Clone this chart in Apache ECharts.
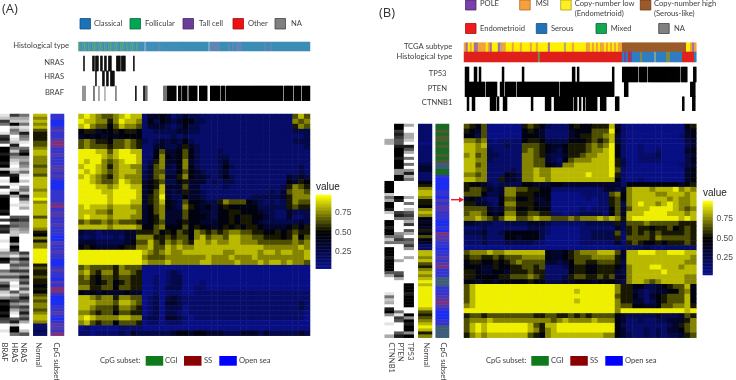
<!DOCTYPE html>
<html><head><meta charset="utf-8">
<style>html,body{margin:0;padding:0;background:#fff}#c{width:736px;height:380px}</style>
<script src="https://cdn.jsdelivr.net/npm/echarts@6/dist/echarts.min.js"></script>
</head><body><div id="c"></div>
<script>
// ---- Panel A heatmap (digit d = methylation beta about 0.05 + d*0.1), read block by block
const heatA = [
"8987667898 8133431232 2111111111 1111111686","9887757988 7142432344 2211111111 1111111767",
"8976646877 6133321242 2111111111 1111111576","4553445455 4112222332 2111111111 1111111222",
"3434343444 4111112121 1111111111 1111111112","6765546676 5212323242 1111111111 1111111222",
"6766656676 5113322353 2111111111 1111111112","9998868998 8114633464 2111211111 1111111111",
"9999878999 8114743464 2111221111 1111111111","9899767899 8125733473 2111231111 1111111111",
"8998757887 7136732474 2111242111 1111111121","9898767888 7236622464 3211231111 1111111121",
"8987657877 7236733574 3321242111 1111113232","9987667987 7345622453 3312122111 1111114354",
"9998878998 8345833363 3111121111 1111125765","9999889999 8346832353 3211111111 1112136776",
"9999989999 8356932243 3211111111 2222235777","9999989998 8356843264 4322576664 3212125766",
"8988878887 7346743275 4342454444 4222225655","8887768888 7346733364 4332445544 4322113222",
"8988878887 7345733364 4432445455 4432113112","6766767666 5345633454 4333445455 4322222232",
"8888878888 7446744464 5443454545 5433334545","3221222233 5556454654 7656567766 5544545655",
"2121112133 7775565664 7867768877 6655545746","3332222234 6686576765 8878778877 7666666767",
"4543333455 7786687877 8888888888 8877777787","9999999999 9876787788 8888877888 8788788778",
"9999999999 9766677777 7787778777 8777777778","9999999999 9877787777 7887777877 7878878776",
"6766665766 6000000000 0000000000 0000000000","7865775776 5000012100 0000000000 0000000000",
"6754665665 5001012200 0000000000 0000000000","6654564565 5001012200 0100000000 0000000000",
"7755664665 5001022200 1100000000 0000000000","4343433343 3001011100 1111111111 1111111111",
"8876775776 6012023211 1111111111 1111111111","8887776887 6012033211 1111111111 1111111121",
"8876665776 5012022201 1111111111 1111111121","7765664665 5012022101 1111111111 1111111110",
"8987777887 7122033210 1111111111 1111111110","7865664666 5011011100 0000000000 0000000000",
"0100000111 1000000000 0000000000 0000000000","1101111213 2222223443 4433322233 3232222232"];
// ---- Panel B heatmap
const heatB = [
"6546000000 5654211145 4455583100 0000000045","5436000000 4543111134 4466694100 0000000034",
"4426000000 4443111134 5566783100 0000000134","7767101111 4554222244 4565683100 0000000023",
"8878111211 6665433455 5676794100 1000000023","8877211111 6765432455 5677894100 1001000034",
"7867221111 7765322355 6778894100 1112000023","8877211111 7766321467 7788895200 1111000024",
"8867111111 7766432778 8888895200 0000000123","8877111121 7787788888 8888896100 0000000034",
"7767111432 7787788888 8988895100 0000000034","8877115332 7788788888 8888884100 1000000034",
"5443212222 4433344333 3333333144 4444444345","5665323776 6554411111 1111332378 8878889787",
"6664223775 5544400000 1111167478 8887788878","3432114664 4533400000 0101156478 8888878778",
"5533214775 5543300000 0001156278 9887898778","6666323664 4544400000 1011146368 8899998767",
"6776434775 5665511011 2222146388 8999988878","7787656886 6787766676 7778787589 9999999898",
"3322211222 2333211111 1222225266 6766666555","1112111111 1222100000 1111113256 5545564565",
"2223112444 4442100000 1122226156 5656555565","1112111443 4442000000 1122225166 6657666665",
"1112111222 2211000000 1111113156 5445455565","0000000000 0000000000 0000000111 1211111111",
"6777877888 8888433456 7778886388 9998899988","5665565666 7777433456 6677775388 8888888887",
"4554454567 6666332346 6556665288 8888888877","4443354455 6656111245 5445554378 8899888788",
"5543344355 5655111145 5445553278 8888988888","5544445566 6765111256 6556563378 8888888877",
"4434434444 4544222334 4434443278 8767888877","6899999999 9999999999 9999997554 4223456684",
"6899999999 9999999998 9999997553 2123344674","6899999999 9999999999 9999996554 2134566684",
"6899999999 9999999998 9999997553 3124566684","7899999999 9999999999 9999997664 4334667785",
"9999999999 9999999999 9999997999 9999999989","5665666666 6655665565 6566664322 2223222365",
"6777877777 7777767877 7787774311 2112233357","6898999999 9865889999 9999994211 1111123567",
"6898999999 9875789999 9999994311 1212133467","5787888888 8654788888 8888774321 1212122356"];

// ---- Row annotation strips (grey level: 0 white .. 9 black)
const rowBRAF_A = "1275001786 0998998929 8010701899 9989070 878001001 4398 0053625 86214 989989 760010";
const rowHRAS_A = "7329254012 8526421013 8991029300 1000685 6322994984 1636473620 1062574631 0682995";
const rowNRAS_A = "5325128541 0579435425 1020452862 1300675 543000000 7485637485 7362586375 85730026";
const rowNormalA = "8787865556 6788777677 6888878897 8888688 8754757799 9995655655 4546767767 88711 21";
const rowCpGA = "MMBBMPMMPR RMMPMMMPPM PMBBBMMMMP RMPPMMP MMMBBPMMPM MBBMPMMBPM RRMBBBMMPMB MPPMR";
const rowCTNNB1_B = "0000033000 0000000009 9992539982 0099899525 0999899996 3000001523 08940010003";
const rowPTEN_B = "9978766899 9899944990 0000980007 8500004575 0000030006 7300000000 00517600068";
const rowTP53_B = "3003320863 0505048350 0000305026 7537063065 7400300000 0009998999 90094989949";
const rowNormalB = "1111110111 1112331114 5788755478 7434354643 1188786578 7898999999 98656789857";
const rowCpGB = "GGTGTTGTGGTGTUUGGM BBBBMMBPMPPMMMBBMB RPPMMBMMPMPRMMMUUUMMMPPRPMBBBMMUUUU";

// ---- Column mutation tracks: [first column, last column, grey level]
const colNRAS_A = [[5,5,9],[14,15,9],[17,19,9],[22,23,9],[26,27,9],[30,32,9],[38,41,9],[43,46,9],[55,55,9]];
const colHRAS_A = [[17,17,9],[24,25,9],[28,29,9],[32,35,9]];
const colBRAF_A = [[4,4,5],[6,6,5],[15,15,6],[20,20,4],[26,26,3],[37,37,5],[57,57,9],[65,66,8],[67,68,5],[85,88,5],[89,97,9],[100,102,9],[104,108,9],[110,110,5],[111,118,9],[121,128,9],[132,141,9],[143,146,9],[148,204,9],[206,214,9],[216,222,9],[224,231,9]];
const colTP53_B = [[1,4,9],[10,12,9],[15,16,9],[38,39,9],[58,59,9],[108,110,9],[113,114,9],[148,149,9],[158,173,9],[175,182,9],[184,215,9],[217,222,9],[229,231,9]];
const colPTEN_B = [[1,20,9],[22,32,9],[36,39,9],[41,51,9],[53,94,9],[96,149,9],[160,163,9],[226,230,9]];
const colCTNNB1_B = [[3,4,9],[8,10,9],[26,31,9],[33,34,9],[39,42,9],[67,68,9],[81,86,9],[90,108,9],[110,112,9],[115,116,9],[119,120,9],[122,125,9],[126,132,9],[136,141,9],[151,154,9],[218,219,9],[228,230,9]];

// ---- Column colour strips
const histA = "FCFFCFCFFCFFCFCFFCFFCFFCFCFFCFC CCWCCCCCCTCCCCCCCCCCCCCCCCCCCCCCCCWTTTTTCCCCTCTCTTTCCCCCCCCCCCTCCTCCCCCCCCCCCCCCCCCCC";
const tcgaB = "OPYOYPPOOO OYOPYYYPNO OYYYOYYYOY YYYOYYOYYY YYPYYYYYYY NYYYOYYYYY YOOYOYOYOO YOYOYOYOOB BBBBBBBBBB BBBBBBBBBB BBBBBBBBBB BYYOPO";
const histB = "RRRRRRRRRR RRRRRRRRRR RRRRRRRRRR RRRRRRRMRR RRRRRRRRRR RRRRRRRRRR RRRRRRRRRR RRRRRRRRR SPSRPSSSSMSSSSSSNSSSSSMMSSSSSSRRRRRRS";

const legendA = ["Classical","Follicular","Tall cell","Other","NA"];
const legendB1 = ["POLE","MSI"];
const legendB2 = ["Endometrioid","Serous","Mixed","NA"];
const colorTicks = ["0.25","0.50","0.75"];

// ---- Colours
const stripA = {C:'#3c8db6',F:'#4f9c8a',T:'#5f86b4',W:'#6fa8c8'};
const stripTcga = {Y:'#fff000',O:'#f2a23a',P:'#a0709a',N:'#b0a880',B:'#9c5a28'};
const stripHist = {R:'#e0201c',M:'#7a8a4a',S:'#2f7cc0',P:'#6a4a98',N:'#7aa0a0'};
const stripCpG = {B:'#1a2cf0',M:'#3434cc',P:'#5238a8',R:'#80307a',G:'#1a6a24',T:'#4a5c32',U:'#3c5c78'};

const clean = s => s.replace(/ /g,'');
const grids=[], xAxes=[], yAxes=[], series=[], heatIdx=[], greyIdx=[];
const FONT='Lato, "Open Sans", sans-serif';
const FSIZE='7.6px ';

function addHeat(box, xCats, yCats, data, kind){
  const i=grids.length;
  grids.push({left:box[0],top:box[1],width:box[2]-box[0],height:box[3]-box[1],show:false,containLabel:false});
  xAxes.push({type:'category',gridIndex:i,data:xCats,show:false,boundaryGap:true});
  yAxes.push({type:'category',gridIndex:i,data:yCats,show:false,inverse:true,boundaryGap:true});
  const si=series.length;
  series.push({type:'heatmap',xAxisIndex:i,yAxisIndex:i,data,silent:true,progressive:0,animation:false,
    itemStyle:{borderWidth:0},emphasis:{disabled:true}});
  if(kind==='heat')heatIdx.push(si);
  if(kind==='grey')greyIdx.push(si);
  return i;
}
const idx = n => Array.from({length:n},(_,k)=>k);
function matrix(box, rows){
  const rs=rows.map(clean), nc=rs[0].length, d=[];
  rs.forEach((r,y)=>{for(let x=0;x<nc;x++)d.push([x,y,0.05+0.1*Number(r[Math.min(x,r.length-1)])]);});
  addHeat(box,idx(nc),idx(rs.length),d,'heat');
}
function rowStrip(box, str, kind){
  const s=clean(str), d=[];
  [...s].forEach((c,y)=>d.push([0,y,kind==='heat'?0.05+0.1*Number(c):Number(c)]));
  addHeat(box,[0],idx(s.length),d,kind);
}
function rowColour(box, str, pal){
  const s=clean(str);
  addHeat(box,[0],idx(s.length),[...s].map((c,y)=>({value:[0,y,1],itemStyle:{color:pal[c]}})),'none');
}
function colColour(box, str, pal){
  const s=clean(str);
  addHeat(box,idx(s.length),[0],[...s].map((c,x)=>({value:[x,0,1],itemStyle:{color:pal[c]}})),'none');
}
function track(box, runs){
  const d=[];
  runs.forEach(([a,b,g])=>{for(let x=a;x<=b;x++)d.push([x,0,g]);});
  addHeat(box,idx(232),[0],d,'grey');
}
function colourbar(box){
  const i=grids.length, levels=[];
  for(let v=3;v<=98;v++)levels.push((v/100).toFixed(2));
  grids.push({left:box[0],top:box[1],width:box[2]-box[0],height:box[3]-box[1],show:false});
  xAxes.push({type:'category',gridIndex:i,data:[0],show:false});
  const show=(k,v)=>colorTicks.includes(v);
  yAxes.push({type:'category',gridIndex:i,data:levels,position:'right',
    axisLine:{show:false},
    axisTick:{show:true,inside:true,length:3,alignWithLabel:true,interval:show,lineStyle:{color:'#fff',width:0.7}},
    axisLabel:{show:true,interval:show,margin:4,fontFamily:'"Liberation Sans",Arial,sans-serif',fontSize:8.5,color:'#4d4d4d'}});
  heatIdx.push(series.length);
  series.push({type:'heatmap',xAxisIndex:i,yAxisIndex:i,silent:true,progressive:0,animation:false,
    itemStyle:{borderWidth:0},emphasis:{disabled:true},data:levels.map((v,y)=>[0,y,Number(v)])});
}

// ---- Panel A
matrix([78.5,114,310,335.7],heatA);
colColour([78.5,42,310,51],histA,stripA);
track([78.5,56,310,71],colNRAS_A);
track([78.5,71,310,86],colHRAS_A);
track([78.5,86,310,100.7],colBRAF_A);
rowStrip([0,114,10,335.7],rowBRAF_A,'grey');
rowStrip([10,114,19.5,335.7],rowHRAS_A,'grey');
rowStrip([19.5,114,29,335.7],rowNRAS_A,'grey');
rowStrip([33.3,114,47,335.7],rowNormalA,'heat');
rowColour([50.7,114,64,335.7],rowCpGA,stripCpG);
colourbar([316,195,331,268.7]);
// ---- Panel B
matrix([464,124,696.3,337.7],heatB);
colColour([464,42.7,696.3,52],tcgaB,stripTcga);
colColour([464,52,696.3,62],histB,stripHist);
track([464,67,696.3,82],colTP53_B);
track([464,82,696.3,96.7],colPTEN_B);
track([464,96.7,696.3,110.7],colCTNNB1_B);
rowStrip([384.7,124,394.3,337.7],rowCTNNB1_B,'grey');
rowStrip([394.3,124,404,337.7],rowPTEN_B,'grey');
rowStrip([404,124,413.7,337.7],rowTP53_B,'grey');
rowStrip([418.3,124,432,337.7],rowNormalB,'heat');
rowColour([435.7,124,449,337.7],rowCpGB,stripCpG);
colourbar([703,201,718,275]);

// ---- Text and swatches
const g=[];
const txt=(x,y,t,o={})=>g.push({type:'text',x,y,silent:true,style:Object.assign({text:t,fill:'#404040',font:FSIZE+FONT,textVerticalAlign:'middle',textAlign:'left'},o)});
const rtxt=(x,y,t)=>g.push({type:'text',x,y,rotation:-Math.PI/2,silent:true,style:{text:t,fill:'#404040',font:FSIZE+FONT,textVerticalAlign:'middle',textAlign:'left'}});
const sw=(x,y,w,h,c,stroke)=>g.push({type:'rect',silent:true,shape:{x,y,width:w,height:h},style:{fill:c,stroke:stroke||null,lineWidth:stroke?0.8:0}});

txt(2,9,'(A)',{font:'13px "Open Sans",sans-serif',fill:'#333'});
txt(379,13,'(B)',{font:'13px "Open Sans",sans-serif',fill:'#333'});

[[80,'#1c72b8','#15507f'],[130,'#00a651','#0a6a3a'],[183,'#6a3d9a','#482a68'],[233,'#ee1111','#a01010'],[275,'#808080','#444']].forEach((s,i)=>{
  sw(s[0],18.5,10.5,10.5,s[1],s[2]);
  txt(s[0]+[14,15,16,15,16][i],24,legendA[i]);
});
[[465.5,0,'#7a3fa8','#4a2a70',480,legendB1[0]],[519.7,0,'#f6a040','#a87020',535.7,legendB1[1]]].forEach(s=>{
  sw(s[0],s[1],10.5,10,s[2],s[3]); txt(s[4],4,s[5]);
});
sw(560.7,0,10.5,10,'#ffee22','#a8a020');
txt(574.7,4,'Copy-number low'); txt(574.7,14,'(Endometrioid)');
sw(640.3,0,10.5,10,'#9c5a28','#6a3a18');
txt(654,4,'Copy-number high'); txt(654,14,'(Serous-like)');
[[465.5,'#ee1c1c','#a01010',480],[536.3,'#1f72b8','#154f80',551],[596,'#12a650','#0a6a3a',610.7],[658.7,'#808080','#444',674]].forEach((s,i)=>{
  sw(s[0],23.5,10.5,10,s[1],s[2]); txt(s[3],28.5,legendB2[i]);
});

txt(69,46,'Histological type',{textAlign:'right'});
txt(64,63,'NRAS',{textAlign:'right'}); txt(64,77,'HRAS',{textAlign:'right'}); txt(64,93,'BRAF',{textAlign:'right'});
txt(452.3,46.5,'TCGA subtype',{textAlign:'right'}); txt(452.3,57,'Histological type',{textAlign:'right'});
txt(446.5,74,'TP53',{textAlign:'right'}); txt(447,88.5,'PTEN',{textAlign:'right'}); txt(452.3,103,'CTNNB1',{textAlign:'right'});

[[4.7,'BRAF'],[14,'HRAS'],[23.5,'NRAS'],[38.7,'Normal'],[56.3,'CpG subset'],
 [391.3,'CTNNB1'],[400.7,'PTEN'],[410,'TP53'],[426,'Normal'],[443.3,'CpG subset']].forEach(r=>rtxt(r[0],342.5,r[1]));

[[100,145.7,165,184,204,219.3,239],[486,531.3,551,570.3,590,605.3,625]].forEach(p=>{
  txt(p[0],361,'CpG subset:');
  sw(p[1],356,17.5,9.7,'#0f7a1a'); txt(p[2],360.5,'CGI');
  sw(p[3],356,17.5,9.7,'#8b0000'); txt(p[4],361,'SS');
  sw(p[5],356,17.5,9.7,'#0000ff'); txt(p[6],360.5,'Open sea');
});

const VFONT='10px "Liberation Sans",Arial,sans-serif';
txt(316,187.5,'value',{font:VFONT,fill:'#222'});
txt(703,193.5,'value',{font:VFONT,fill:'#222'});

// red arrow in panel B
g.push({type:'line',silent:true,shape:{x1:451,y1:199.7,x2:460,y2:199.7},style:{stroke:'#e8202a',lineWidth:1.4}});
g.push({type:'polygon',silent:true,shape:{points:[[464,199.7],[459,197],[459,202.4]]},style:{fill:'#e8202a'}});

const chart=echarts.init(document.getElementById('c'),null,{renderer:'canvas'});
chart.setOption({
  animation:false,backgroundColor:'#fff',
  grid:grids,xAxis:xAxes,yAxis:yAxes,series,
  visualMap:[
    {show:false,type:'continuous',seriesIndex:heatIdx,min:0.03,max:0.98,inRange:{color:['#08108a','#000000','#ffff00']}},
    {show:false,type:'continuous',seriesIndex:greyIdx,min:0,max:9,inRange:{color:['#ffffff','#000000']}}
  ],
  graphic:{elements:g},
  tooltip:{show:false}
});
</script></body></html>
